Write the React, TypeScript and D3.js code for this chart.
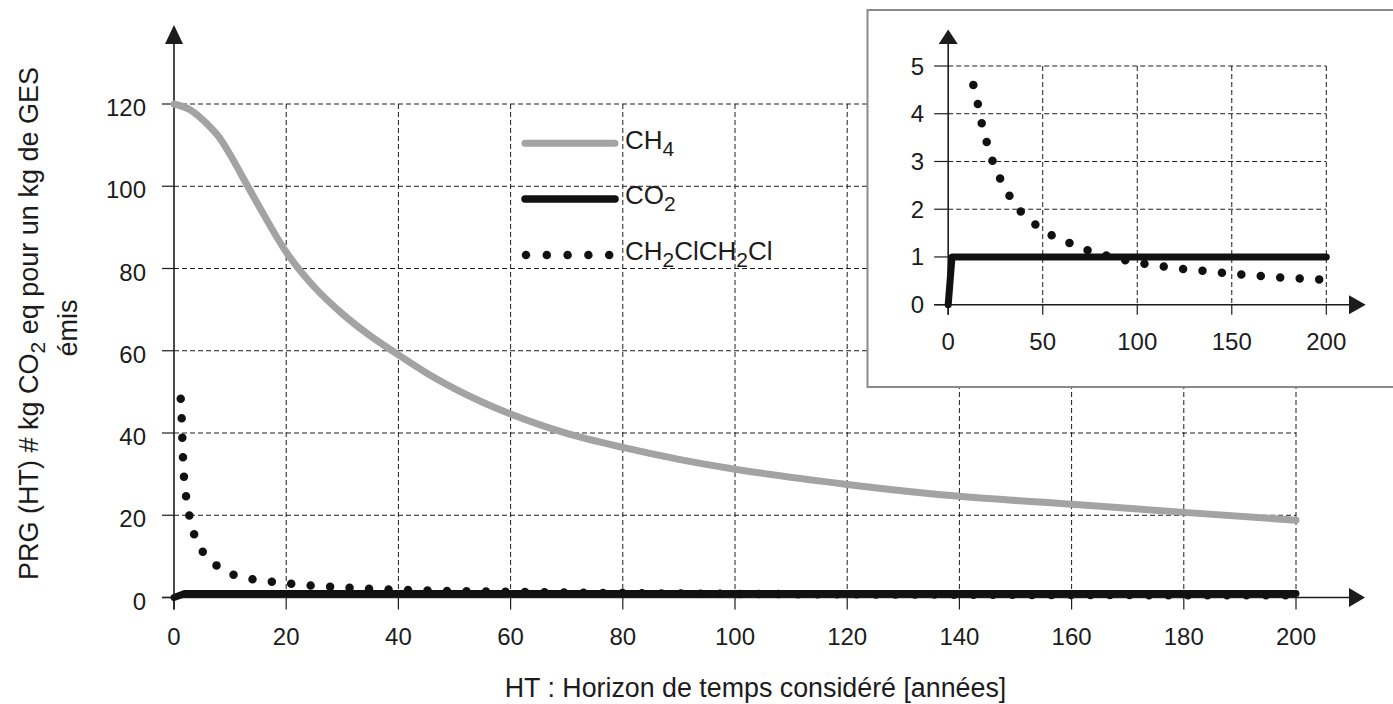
import React from 'react';
import * as d3 from 'd3';

// Global warming potential over time horizon (years)
const ch4Years = [0, 3, 6, 8, 10, 12, 15, 20, 25, 30, 35, 40, 45, 50, 60, 70, 80, 90, 100, 120, 140, 160, 180, 200];
const ch4Values = [120, 118.5, 115, 112, 107.7, 102.8, 95.5, 84, 75.5, 69, 63.6, 59, 54.6, 50.8, 44.6, 39.9, 36.5, 33.6, 31.2, 27.5, 24.6, 22.7, 20.7, 18.8];

const co2Years = [0, 2, 200];
const co2Values = [0, 1, 1];

const dceYears = [1.2, 1.37, 1.48, 1.6, 1.78, 2.14, 2.73, 3.56, 5.05, 7.5, 10.5, 13.3, 15.7, 17.8, 20.5, 23.5, 27.6, 32.6, 38.6, 46.5, 55, 64.3, 73.8, 83.6, 93.7, 103.7, 114, 124.2, 134.3, 144.8, 155.2, 165.3, 175.7, 185.8, 196, 200];
const dceValues = [48.3, 43.5, 38.8, 34, 29.3, 24.7, 20, 15.5, 11.3, 7.9, 5.6, 4.6, 4.2, 3.79, 3.39, 3.01, 2.63, 2.27, 1.94, 1.67, 1.45, 1.29, 1.14, 1.03, 0.93, 0.86, 0.8, 0.75, 0.71, 0.67, 0.63, 0.6, 0.57, 0.55, 0.53, 0.52];

const mainXTicks = [0, 20, 40, 60, 80, 100, 120, 140, 160, 180, 200];
const mainYTicks = [0, 20, 40, 60, 80, 100, 120];
const insetXTicks = [0, 50, 100, 150, 200];
const insetYTicks = [0, 1, 2, 3, 4, 5];

type Pt = [number, number];
const zip = (xs: number[], ys: number[]): Pt[] => xs.map((x, i) => [x, ys[i]]);

const FONT = "'Liberation Sans', Arial, Helvetica, sans-serif";
const INK = '#1c1c1c';
const GREY = '#a3a3a3';
const DOTS = '0 19.5';

export default function App() {
  const W = 1393;
  const H = 704;

  // main chart scales
  const x = d3.scaleLinear().domain([0, 200]).range([174, 1296]);
  const y = d3.scaleLinear().domain([0, 120]).range([597.5, 104]);

  // inset scales
  const xi = d3.scaleLinear().domain([0, 200]).range([948.2, 1326.3]);
  const yi = d3.scaleLinear().domain([0, 5]).range([304.7, 66]);

  const ch4 = zip(ch4Years, ch4Values);
  const co2 = zip(co2Years, co2Values);
  const dce = zip(dceYears, dceValues);
  const dceInset = dce.filter((d) => d[1] <= 5);

  const lineMain = d3
    .line<Pt>()
    .x((d) => x(d[0]))
    .y((d) => y(d[1]))
    .curve(d3.curveMonotoneX);
  const lineMainLin = d3
    .line<Pt>()
    .x((d) => x(d[0]))
    .y((d) => y(d[1]));
  const lineInset = d3
    .line<Pt>()
    .x((d) => xi(d[0]))
    .y((d) => yi(d[1]))
    .curve(d3.curveMonotoneX);
  const lineInsetLin = d3
    .line<Pt>()
    .x((d) => xi(d[0]))
    .y((d) => yi(d[1]));

  const x0 = x(0);
  const y0 = y(0);
  const xi0 = xi(0);
  const yi0 = yi(0);

  return (
    <svg
      width={W}
      height={H}
      style={{ position: 'absolute', left: 0, top: 0, background: '#fff' }}
      fontFamily={FONT}
    >
      <rect x={0} y={0} width={W} height={H} fill="#fff" />

      {/* main grid */}
      <g stroke={INK} strokeWidth={1} strokeDasharray="5 3" fill="none">
        {mainYTicks.filter((t) => t > 0).map((t) => (
          <line key={'gy' + t} x1={x0} x2={x(200)} y1={y(t)} y2={y(t)} />
        ))}
        {mainXTicks.filter((t) => t > 0).map((t) => (
          <line key={'gx' + t} x1={x(t)} x2={x(t)} y1={y(120)} y2={y0} />
        ))}
      </g>
      {/* main ticks */}
      <g stroke={INK} strokeWidth={1.2}>
        {mainYTicks.map((t) => (
          <line key={'ty' + t} x1={x0 - 12} x2={x0} y1={y(t)} y2={y(t)} />
        ))}
        {mainXTicks.map((t) => (
          <line key={'tx' + t} x1={x(t)} x2={x(t)} y1={y0} y2={y0 + 12} />
        ))}
      </g>

      {/* main axes with arrows */}
      <g stroke={INK} strokeWidth={1.6}>
        <line x1={x0} x2={x0} y1={y0 + 12} y2={42} />
        <line x1={x0 - 12} x2={1350} y1={y0} y2={y0} />
      </g>
      <path d={`M${x0},25 L${x0 + 9},44 L${x0 - 9},44 Z`} fill={INK} />
      <path d={`M1365,${y0} L1349,${y0 - 9.5} L1349,${y0 + 9.5} Z`} fill={INK} />

      {/* main series */}
      <path d={lineMain(ch4) || ''} fill="none" stroke={GREY} strokeWidth={7} strokeLinecap="round" strokeLinejoin="round" />
      <path d={lineMain(dce) || ''} fill="none" stroke="#111" strokeWidth={8.5} strokeLinecap="round" strokeDasharray={DOTS} />
      <path d={lineMainLin(co2) || ''} fill="none" stroke="#111" strokeWidth={7} strokeLinecap="round" strokeLinejoin="round" />

      {/* main tick labels */}
      <g fill={INK} fontSize={24}>
        {mainYTicks.map((t) => (
          <text key={'ly' + t} x={146} y={y(t) + 12} textAnchor="end">{t}</text>
        ))}
        {mainXTicks.map((t) => (
          <text key={'lx' + t} x={x(t)} y={645} textAnchor="middle">{t}</text>
        ))}
      </g>

      {/* axis titles */}
      <text x={755.5} y={697} textAnchor="middle" fontSize={26.8} fill={INK}>
        HT : Horizon de temps considéré [années]
      </text>
      <g fill={INK} fontSize={27}>
        <text transform="translate(38,323.5) rotate(-90)" textAnchor="middle">
          PRG (HT) # kg CO<tspan fontSize={21} dy={7}>2</tspan><tspan dy={-7}> eq pour un kg de GES</tspan>
        </text>
        <text transform="translate(77,328) rotate(-90)" textAnchor="middle">émis</text>
      </g>

      {/* legend */}
      <line x1={525} x2={615} y1={143.3} y2={143.3} stroke={GREY} strokeWidth={7} strokeLinecap="round" />
      <line x1={525} x2={615} y1={199} y2={199} stroke="#111" strokeWidth={7.5} strokeLinecap="round" />
      <line x1={526} x2={610} y1={255} y2={255} stroke="#111" strokeWidth={8.5} strokeLinecap="round" strokeDasharray="0 20.8" />
      <g fill={INK} fontSize={26}>
        <text x={625} y={149}>CH<tspan fontSize={21} dy={7}>4</tspan></text>
        <text x={625} y={204}>CO<tspan fontSize={21} dy={7}>2</tspan></text>
        <text x={625} y={260}>
          CH<tspan fontSize={21} dy={7}>2</tspan><tspan dy={-7}>ClCH</tspan><tspan fontSize={21} dy={7}>2</tspan><tspan dy={-7}>Cl</tspan>
        </text>
      </g>

      {/* inset panel */}
      <rect x={867.5} y={10} width={540} height={377} fill="#fff" stroke="#8a8a8a" strokeWidth={2} />
      <g stroke={INK} strokeWidth={1} strokeDasharray="5 3" fill="none">
        {insetYTicks.filter((t) => t > 0).map((t) => (
          <line key={'igy' + t} x1={xi0} x2={xi(200)} y1={yi(t)} y2={yi(t)} />
        ))}
        {insetXTicks.filter((t) => t > 0).map((t) => (
          <line key={'igx' + t} x1={xi(t)} x2={xi(t)} y1={yi(5)} y2={yi0} />
        ))}
      </g>
      <g stroke={INK} strokeWidth={1.2}>
        {insetYTicks.map((t) => (
          <line key={'ity' + t} x1={xi0 - 14} x2={xi0} y1={yi(t)} y2={yi(t)} />
        ))}
        {insetXTicks.map((t) => (
          <line key={'itx' + t} x1={xi(t)} x2={xi(t)} y1={yi0} y2={yi0 + 10} />
        ))}
      </g>
      <g stroke={INK} strokeWidth={1.6}>
        <line x1={xi0} x2={xi0} y1={yi0 + 10} y2={42} />
        <line x1={xi0 - 14} x2={1350} y1={yi0} y2={yi0} />
      </g>
      <path d={`M${xi0},29.6 L${xi0 + 9.5},44 L${xi0 - 9.5},44 Z`} fill={INK} />
      <path d={`M1365.7,${yi0} L1349,${yi0 - 9.5} L1349,${yi0 + 9.5} Z`} fill={INK} />

      <path d={lineInset(dceInset) || ''} fill="none" stroke="#111" strokeWidth={8.5} strokeLinecap="round" strokeDasharray={DOTS} />
      <path d={lineInsetLin(co2) || ''} fill="none" stroke="#111" strokeWidth={7} strokeLinecap="round" strokeLinejoin="round" />

      <g fill={INK} fontSize={24}>
        {insetYTicks.map((t) => (
          <text key={'ily' + t} x={924} y={yi(t) + 8.5} textAnchor="end">{t}</text>
        ))}
        {insetXTicks.map((t) => (
          <text key={'ilx' + t} x={xi(t)} y={350} textAnchor="middle">{t}</text>
        ))}
      </g>
    </svg>
  );
}
